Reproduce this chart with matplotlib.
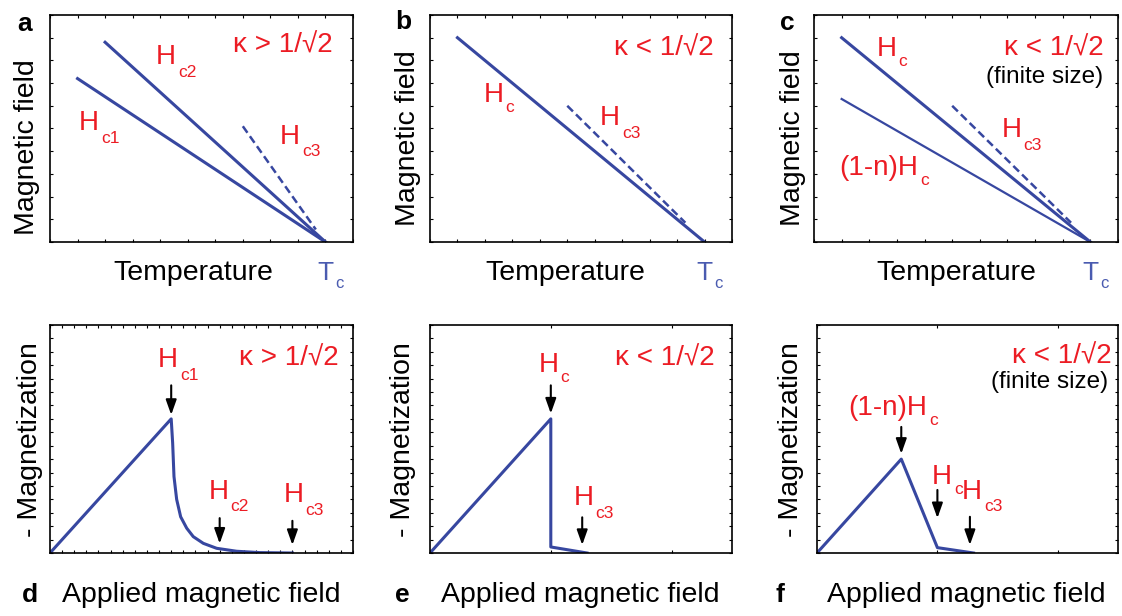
import numpy as np
import matplotlib
matplotlib.use('Agg')
import matplotlib.pyplot as plt

plt.rcParams['font.family'] = ['Liberation Sans', 'DejaVu Sans']

BLUE = '#3747a0'
TC_BLUE = '#4a5bb0'
RED = '#ec1c24'

# top row: temperature (Tc = 10) vs magnetic field
tc = 10
a_hc1_t = [1, 10]
a_hc1_h = [7.2, 0]
a_hc2_t = [2, 10]
a_hc2_h = [8.8, 0]
a_hc3_t = [7, 9.65]
a_hc3_h = [5.1, 0.55]

b_hc_t = [1, 10]
b_hc_h = [9.0, 0]
b_hc3_t = [5, 9.3]
b_hc3_h = [6.0, 0.85]

c_hc_t = [1, 10]
c_hc_h = [9.0, 0]
c_hcn_t = [1, 10]
c_hcn_h = [6.3, 0]
c_hc3_t = [5, 9.3]
c_hc3_h = [6.0, 0.85]

# bottom row: applied field vs -magnetization
d_h = [0, 10, 10.12, 10.23, 10.45, 10.78, 11.28, 11.82, 12.65, 13.75, 15.4, 17.3, 20]
d_m = [0, 10, 8.2, 5.7, 4.0, 2.7, 1.85, 1.22, 0.72, 0.35, 0.13, 0.03, 0]
e_h = [0, 10, 10, 13]
e_m = [0, 10, 0.45, 0]
f_h = [0, 7, 10, 13]
f_m = [0, 7, 0.4, 0]

# arrows: (x, y_start, y_end)
d_arrows = [(10, 12.5, 10.3), (14, 2.6, 0.7), (20, 2.4, 0.6)]
e_arrows = [(10, 12.5, 10.4), (12.6, 2.66, 0.6)]
f_arrows = [(7, 9.4, 7.4), (10, 4.7, 2.6), (12.7, 2.7, 0.6)]

W, H = 1122, 616
fig = plt.figure(figsize=(11.22, 6.16), dpi=100)


def make_ax(l, t, w, h):
    return fig.add_axes([l / W, 1 - (t + h) / H, w / W, h / H])


ax_a = make_ax(50, 15, 303, 227)
ax_b = make_ax(430, 15, 302, 227)
ax_c = make_ax(814, 15, 304, 227)
ax_d = make_ax(50, 325, 303, 228)
ax_e = make_ax(430, 325, 302, 228)
ax_f = make_ax(817, 325, 301, 228)

for ax in [ax_a, ax_b, ax_c]:
    ax.set_xlim(0, 11)
    ax.set_ylim(0, 10)
    ax.set_xticks(np.arange(0, 12))
    ax.set_yticks(np.arange(0, 11))
for ax in [ax_d, ax_e, ax_f]:
    ax.set_xlim(0, 25)
    ax.set_ylim(0, 17)
    ax.set_yticks(np.arange(0, 18))
ax_d.set_xticks(np.arange(0, 26))
ax_e.set_xticks([0, 10, 20])
ax_f.set_xticks([0, 10, 20])

for ax in [ax_a, ax_b, ax_c, ax_d, ax_e, ax_f]:
    ax.tick_params(direction='in', top=True, right=True, length=2.5, width=0.8,
                   labelbottom=False, labelleft=False)
    for s in ax.spines.values():
        s.set_linewidth(1.2)


def hlabel(ax, x, y, main, sub, color=RED, size=20, subsize=12.5, ha='center', dx=1.5, dy=4):
    t = ax.text(x, y, main, transform=ax.transAxes, ha=ha, va='center', color=color, fontsize=size)
    ax.annotate(sub, xy=(1, 0), xycoords=t, xytext=(dx, dy), textcoords='offset points',
                ha='left', va='top', color=color, fontsize=subsize)


def tc_label(ax):
    t = ax.text(tc, -0.138, 'T', transform=ax.get_xaxis_transform(), ha='center', va='center',
                color=TC_BLUE, fontsize=19)
    ax.annotate('c', xy=(1, 0), xycoords=t, xytext=(1.5, 7), textcoords='offset points',
                ha='left', va='top', color=TC_BLUE, fontsize=12)


def arrows(ax, lst):
    for x, y0, y1 in lst:
        ax.annotate('', xy=(x, y1), xytext=(x, y0),
                    arrowprops=dict(arrowstyle='-|>,head_length=0.45,head_width=0.16',
                                    color='k', lw=1.5, mutation_scale=20,
                                    shrinkA=0, shrinkB=0))


# panel a
ax_a.plot(a_hc1_t, a_hc1_h, color=BLUE, lw=2.2)
ax_a.plot(a_hc2_t, a_hc2_h, color=BLUE, lw=2.2)
ax_a.plot(a_hc3_t, a_hc3_h, color=BLUE, lw=1.8, dashes=(3.2, 1.7))
ax_a.text(0.77, 0.865, 'κ > 1/√2', transform=ax_a.transAxes, ha='center', va='center', color=RED, fontsize=20)
hlabel(ax_a, 0.382, 0.814, 'H', 'c2')
hlabel(ax_a, 0.128, 0.523, 'H', 'c1')
hlabel(ax_a, 0.792, 0.464, 'H', 'c3')
tc_label(ax_a)
ax_a.text(0.473, -0.138, 'Temperature', transform=ax_a.transAxes, ha='center', va='center', fontsize=20.5)
ax_a.text(-0.077, 0.42, 'Magnetic field', transform=ax_a.transAxes, ha='center', va='center',
          rotation=90, fontsize=20.5)

# panel b
ax_b.plot(b_hc_t, b_hc_h, color=BLUE, lw=2.2)
ax_b.plot(b_hc3_t, b_hc3_h, color=BLUE, lw=1.8, dashes=(3.2, 1.7))
ax_b.text(0.773, 0.853, 'κ < 1/√2', transform=ax_b.transAxes, ha='center', va='center', color=RED, fontsize=20)
hlabel(ax_b, 0.21, 0.648, 'H', 'c', dy=6)
hlabel(ax_b, 0.596, 0.545, 'H', 'c3')
tc_label(ax_b)
ax_b.text(0.447, -0.138, 'Temperature', transform=ax_b.transAxes, ha='center', va='center', fontsize=20.5)
ax_b.text(-0.072, 0.458, 'Magnetic field', transform=ax_b.transAxes, ha='center', va='center',
          rotation=90, fontsize=20.5)

# panel c
ax_c.plot(c_hc_t, c_hc_h, color=BLUE, lw=2.2)
ax_c.plot(c_hcn_t, c_hcn_h, color=BLUE, lw=1.6)
ax_c.plot(c_hc3_t, c_hc3_h, color=BLUE, lw=1.8, dashes=(3.2, 1.7))
ax_c.text(0.954, 0.853, 'κ < 1/√2', transform=ax_c.transAxes, ha='right', va='center', color=RED, fontsize=20)
ax_c.text(0.95, 0.728, '(finite size)', transform=ax_c.transAxes, ha='right', va='center', fontsize=17.5)
hlabel(ax_c, 0.239, 0.849, 'H', 'c', dy=6)
hlabel(ax_c, 0.65, 0.493, 'H', 'c3')
hlabel(ax_c, 0.083, 0.326, '(1-n)H', 'c', ha='left', dy=6)
tc_label(ax_c)
ax_c.text(0.469, -0.138, 'Temperature', transform=ax_c.transAxes, ha='center', va='center', fontsize=20.5)
ax_c.text(-0.068, 0.458, 'Magnetic field', transform=ax_c.transAxes, ha='center', va='center',
          rotation=90, fontsize=20.5)

# panel d
ax_d.plot(d_h, d_m, color=BLUE, lw=2.2)
arrows(ax_d, d_arrows)
ax_d.text(0.787, 0.854, 'κ > 1/√2', transform=ax_d.transAxes, ha='center', va='center', color=RED, fontsize=20)
hlabel(ax_d, 0.39, 0.846, 'H', 'c1')
hlabel(ax_d, 0.556, 0.269, 'H', 'c2')
hlabel(ax_d, 0.803, 0.254, 'H', 'c3')
ax_d.text(-0.066, 0.496, '- Magnetization', transform=ax_d.transAxes, ha='center', va='center',
          rotation=90, fontsize=20.5)
ax_d.text(0.5, -0.184, 'Applied magnetic field', transform=ax_d.transAxes, ha='center', va='center', fontsize=20.5)

# panel e
ax_e.plot(e_h, e_m, color=BLUE, lw=2.2)
arrows(ax_e, e_arrows)
ax_e.text(0.778, 0.854, 'κ < 1/√2', transform=ax_e.transAxes, ha='center', va='center', color=RED, fontsize=20)
hlabel(ax_e, 0.392, 0.825, 'H', 'c', dy=6)
hlabel(ax_e, 0.508, 0.24, 'H', 'c3')
ax_e.text(-0.088, 0.496, '- Magnetization', transform=ax_e.transAxes, ha='center', va='center',
          rotation=90, fontsize=20.5)
ax_e.text(0.497, -0.184, 'Applied magnetic field', transform=ax_e.transAxes, ha='center', va='center', fontsize=20.5)

# panel f
ax_f.plot(f_h, f_m, color=BLUE, lw=2.2)
arrows(ax_f, f_arrows)
ax_f.text(0.98, 0.86, 'κ < 1/√2', transform=ax_f.transAxes, ha='right', va='center', color=RED, fontsize=20)
ax_f.text(0.967, 0.75, '(finite size)', transform=ax_f.transAxes, ha='right', va='center', fontsize=17.5)
hlabel(ax_f, 0.236, 0.635, '(1-n)H', 'c', dy=6)
hlabel(ax_f, 0.415, 0.333, 'H', 'c', dy=6)
hlabel(ax_f, 0.515, 0.268, 'H', 'c3')
ax_f.text(-0.085, 0.496, '- Magnetization', transform=ax_f.transAxes, ha='center', va='center',
          rotation=90, fontsize=20.5)
ax_f.text(0.497, -0.184, 'Applied magnetic field', transform=ax_f.transAxes, ha='center', va='center', fontsize=20.5)

# panel letters
for lab, px, py in [('a', 25, 24), ('b', 403, 22), ('c', 787, 23),
                    ('d', 30, 595), ('e', 402, 595), ('f', 780, 595)]:
    fig.text(px / W, 1 - py / H, lab, ha='center', va='center', fontsize=19, fontweight='bold')

fig.savefig('out.png', dpi=100)
